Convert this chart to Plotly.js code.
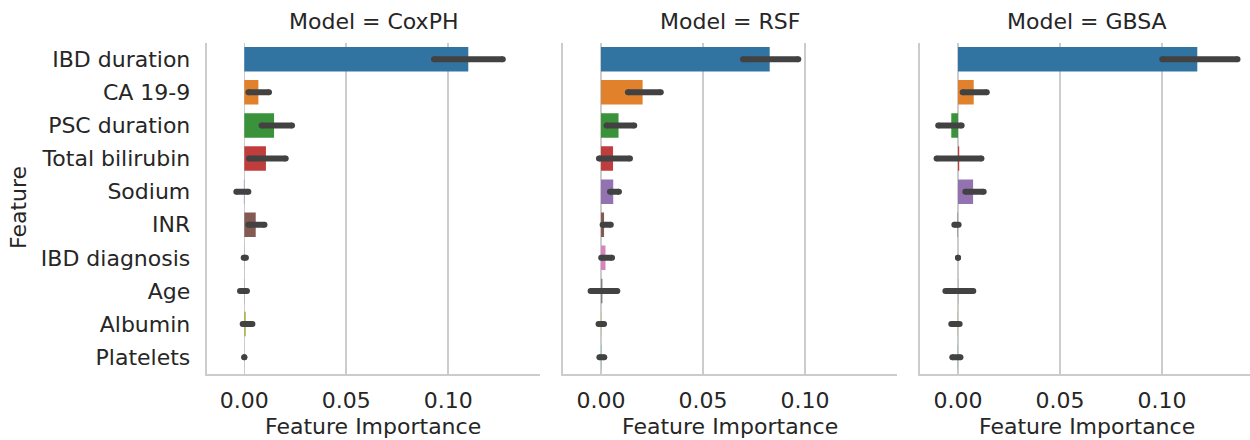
<!DOCTYPE html>
<html>
<head>
<meta charset="utf-8">
<script src="https://cdn.plot.ly/plotly-3.0.1.min.js"></script>
<style>html,body{margin:0;padding:0;background:#fff;}#chart{width:1250px;height:440px;}</style>
</head>
<body>
<div id="chart"></div>
<script>
// ---- data ----
const features = ['IBD duration','CA 19-9','PSC duration','Total bilirubin','Sodium','INR','IBD diagnosis','Age','Albumin','Platelets'];
const models = ['CoxPH','RSF','GBSA'];
const xTickVals = [0, 0.05, 0.10];
const xTickLabels = ['0.00','0.05','0.10'];

const coxMean = [0.1098, 0.0069, 0.0146, 0.0106, -0.0002, 0.0056, 0.0001, -0.0001, 0.0007, 0.0];
const coxLo   = [0.0930, 0.0020, 0.0085, 0.0023, -0.0039, 0.0020, -0.0003, -0.0021, -0.0008, 0.0];
const coxHi   = [0.1267, 0.0121, 0.0234, 0.0203, 0.0020, 0.0099, 0.0008, 0.0013, 0.0040, 0.0];

const rsfMean = [0.0827, 0.0204, 0.0086, 0.0059, 0.0060, 0.0015, 0.0022, 0.0007, 0.0001, 0.0001];
const rsfLo   = [0.0696, 0.0132, 0.0027, -0.0010, 0.0044, 0.0008, 0.0001, -0.0051, -0.0012, -0.0008];
const rsfHi   = [0.0967, 0.0293, 0.0163, 0.0142, 0.0088, 0.0048, 0.0054, 0.0080, 0.0015, 0.0016];

const gbsaMean = [0.1173, 0.0077, -0.0033, 0.0006, 0.0074, -0.0002, 0.0, 0.0001, -0.0001, -0.0001];
const gbsaLo   = [0.1001, 0.0023, -0.0097, -0.0105, 0.0036, -0.0018, 0.0, -0.0062, -0.0033, -0.0028];
const gbsaHi   = [0.1370, 0.0141, 0.0018, 0.0115, 0.0126, 0.0003, 0.0, 0.0075, 0.0008, 0.0012];

const palette = ['#3274a1','#e1812c','#3a923a','#c03d3e','#9372b2','#845b53','#d684bd','#7f7f7f','#a9aa35','#2e9fb1'];

// ---- build ----
const means = [coxMean, rsfMean, gbsaMean];
const los = [coxLo, rsfLo, gbsaLo];
const his = [coxHi, rsfHi, gbsaHi];
const FONT = 'DejaVu Sans, Verdana, sans-serif';
const TXT = '#262626';
const W = 1250, H = 440;

const traces = [];
for (let p = 0; p < 3; p++) {
  const xa = p === 0 ? 'x' : 'x' + (p + 1);
  const ya = p === 0 ? 'y' : 'y' + (p + 1);
  traces.push({
    type: 'bar', orientation: 'h',
    x: means[p], y: features,
    xaxis: xa, yaxis: ya,
    width: 0.74,
    marker: {color: palette, line: {width: 0}},
    hoverinfo: 'skip', showlegend: false
  });
  const ex = [], ey = [];
  for (let i = 0; i < features.length; i++) {
    ex.push(los[p][i], his[p][i], null);
    ey.push(features[i], features[i], null);
  }
  traces.push({
    type: 'scatter', mode: 'lines+markers',
    x: ex, y: ey, xaxis: xa, yaxis: ya,
    line: {color: '#424242', width: 6},
    marker: {color: '#424242', size: 6, line: {width: 0}},
    hoverinfo: 'skip', showlegend: false
  });
}

// pixel geometry
const px = v => v / W;
const py = v => (H - v) / H;
const panels = [[206.7, 540.0], [563.3, 896.7], [920.0, 1250.0]];
const zeros = [244.3, 601.0, 958.0];
const scale = 2040; // px per unit
const yDom = [py(373.7), py(42.7)];

const layout = {
  width: W, height: H,
  margin: {l: 0, r: 0, t: 0, b: 0},
  paper_bgcolor: '#ffffff', plot_bgcolor: '#ffffff',
  font: {family: FONT, size: 22, color: TXT},
  showlegend: false,
  annotations: []
};

for (let p = 0; p < 3; p++) {
  const sx = p === 0 ? '' : String(p + 1);
  const [a, b] = panels[p];
  layout['xaxis' + sx] = {
    domain: [px(a), px(b)], anchor: 'y' + sx,
    range: [(a - zeros[p]) / scale, (b - zeros[p]) / scale],
    tickvals: xTickVals, ticktext: xTickLabels,
    showgrid: true, gridcolor: '#cccccc', gridwidth: 1.6,
    zeroline: false, showline: true, linecolor: '#cccccc', linewidth: 2,
    ticks: '', ticklabelstandoff: 6,
    tickfont: {family: FONT, size: 22, color: TXT},
    automargin: false, fixedrange: true
  };
  layout['yaxis' + sx] = {
    domain: yDom, anchor: 'x' + sx,
    type: 'category', categoryorder: 'array', categoryarray: features,
    range: [features.length - 0.5, -0.5],
    showgrid: false, zeroline: false, showline: true, linecolor: '#cccccc', linewidth: 2,
    ticks: '', showticklabels: p === 0, ticklabelstandoff: 10,
    tickfont: {family: FONT, size: 22, color: TXT},
    automargin: false, fixedrange: true
  };
  const cx = (a + (p === 2 ? 1253.3 : b)) / 2;
  layout.annotations.push({
    text: 'Model = ' + models[p], xref: 'paper', yref: 'paper',
    x: px(cx), y: py(21), xanchor: 'center', yanchor: 'middle',
    showarrow: false, font: {family: FONT, size: 22, color: TXT}
  });
  layout.annotations.push({
    text: 'Feature Importance', xref: 'paper', yref: 'paper',
    x: px(cx), y: py(426.5), xanchor: 'center', yanchor: 'middle',
    showarrow: false, font: {family: FONT, size: 22, color: TXT}
  });
}
layout.annotations.push({
  text: 'Feature', xref: 'paper', yref: 'paper',
  x: px(18), y: py(208), xanchor: 'center', yanchor: 'middle', textangle: -90,
  showarrow: false, font: {family: FONT, size: 22, color: TXT}
});

Plotly.newPlot('chart', traces, layout, {displayModeBar: false, staticPlot: true});
</script>
</body>
</html>
